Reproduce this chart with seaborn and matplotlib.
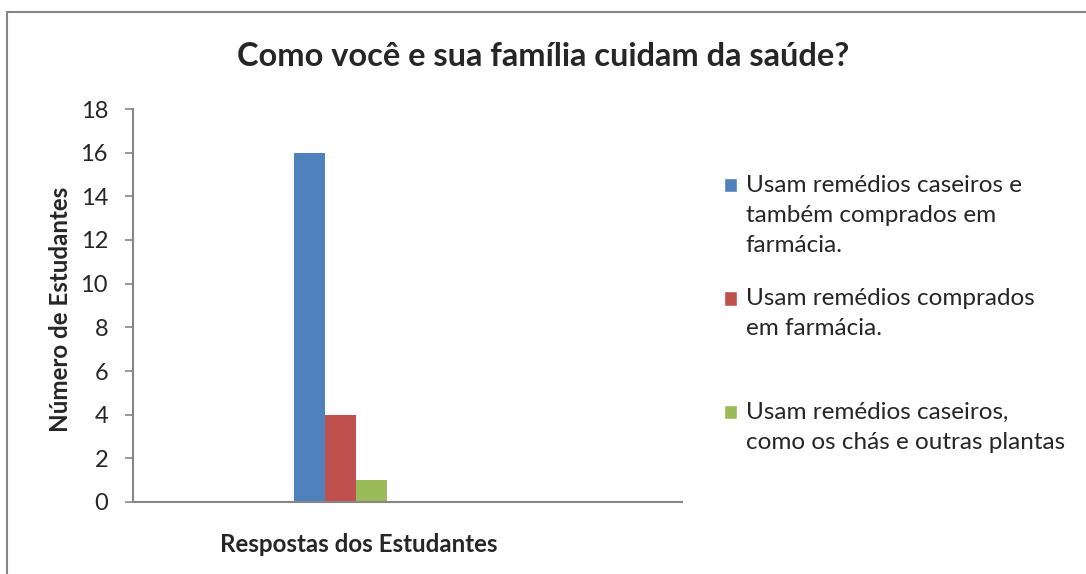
import matplotlib
matplotlib.use("Agg")
import matplotlib.pyplot as plt
import matplotlib.patches as mpatches
from matplotlib.legend_handler import HandlerPatch
import seaborn as sns
import pandas as pd

# data
categoria = ['Respostas dos Estudantes']
respostas = ['Usam remédios caseiros e\ntambém comprados em\nfarmácia.',
             'Usam remédios comprados\nem farmácia.\n',
             'Usam remédios caseiros,\ncomo os chás e outras plantas']
estudantes = [16, 4, 1]
cores = ['#4F81BD', '#C0504D', '#9BBB59']

df = pd.DataFrame({'cat': categoria * len(respostas), 'resposta': respostas, 'n': estudantes})

sns.set_style('white')
plt.rcParams['font.family'] = ['Lato', 'DejaVu Sans']

fig = plt.figure(figsize=(10.86, 5.74), dpi=100)
# axes placed in figure pixels: x 133..682, y 109..502
W, H = 1086, 574
ax = fig.add_axes([133 / W, (H - 502) / H, (682 - 133) / W, (502 - 109) / H])

sns.barplot(data=df, x='cat', y='n', hue='resposta', palette=cores,
            width=0.8, saturation=1, linewidth=0, ax=ax, legend=False)

ax.set_xlim(-1.781, 2.942)
ax.set_ylim(0, 18)
ax.set_yticks(range(0, 19, 2))
ax.set_xticks([])
ax.tick_params(axis='y', direction='out', length=6, width=1.2, color='#868686',
               labelsize=17, pad=12, left=True)
for s in ['top', 'right']:
    ax.spines[s].set_visible(False)
for s in ['left', 'bottom']:
    ax.spines[s].set_color('#868686')
    ax.spines[s].set_linewidth(1.5)

ax.set_xlabel('Respostas dos Estudantes', fontsize=17.4, fontweight='bold', va='top')
ax.xaxis.set_label_coords((359 - 133) / 549, -(533 - 502) / 393)
ax.set_ylabel('Número de Estudantes', fontsize=17.4, fontweight='bold', va='center')
ax.yaxis.set_label_coords((60 - 133) / 549, 0.49)

fig.suptitle('Como você e sua família cuidam da saúde?', fontsize=23.4,
             fontweight='bold', x=0.5, y=1 - 57 / H, va='center')

# legend: square aligned with the first line of each entry
fs = 17.5
lsp = 1.52
line_h = fs * lsp * 0.823


def top_square(legend, orig_handle, xdescent, ydescent, width, height, fontsize):
    nl = orig_handle.get_label().count('\n')
    off = nl / 2 * line_h
    return mpatches.Rectangle((-xdescent, -ydescent + off), width, height)


handles = [mpatches.Patch(facecolor=c, label=l) for c, l in zip(cores, respostas)]
leg = fig.legend(handles=handles, labels=respostas, loc='upper left',
                 bbox_to_anchor=(724 / W, 1 - 175 / H), frameon=False, fontsize=fs,
                 handlelength=0.55, handleheight=0.55, handletextpad=0.35,
                 labelspacing=1.35, borderpad=0, borderaxespad=0,
                 handler_map={mpatches.Patch: HandlerPatch(patch_func=top_square)})
for t in leg.get_texts():
    t.set_linespacing(lsp)

# outer chart border
fig.patches.append(mpatches.Rectangle((7 / W, -0.05), 1.1, 1 - 12 / H + 0.05,
                                      transform=fig.transFigure, fill=False,
                                      edgecolor='#868686', linewidth=1.5))

fig.savefig('out.png', dpi=100)
